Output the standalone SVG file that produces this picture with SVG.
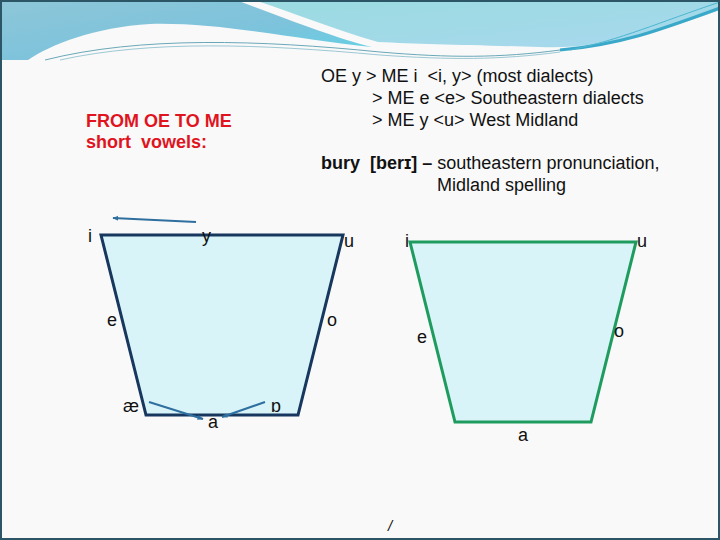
<svg xmlns="http://www.w3.org/2000/svg" width="720" height="540" viewBox="0 0 720 540">
<defs>
<linearGradient id="gL" x1="0" y1="0" x2="1" y2="1">
<stop offset="0" stop-color="#8ec6d8"/>
<stop offset="0.6" stop-color="#7cc3dc"/>
<stop offset="1" stop-color="#5fd3e6"/>
</linearGradient>
<linearGradient id="gR" x1="0" y1="0" x2="1" y2="1">
<stop offset="0" stop-color="#9adbe0"/>
<stop offset="1" stop-color="#a8d8ee"/>
</linearGradient>
<marker id="ah" viewBox="0 0 10 10" refX="9" refY="5" markerWidth="6" markerHeight="6" orient="auto-start-reverse" markerUnits="userSpaceOnUse">
<path d="M0,1 L10,5 L0,9 Z" fill="#2f6f9f"/>
</marker>
<style>
.t{font-family:"Liberation Sans",Arial,"DejaVu Sans",sans-serif;fill:#111}
.lab{font-size:18px}
.body{font-size:18px}
.red{font-family:"Liberation Sans",Arial,sans-serif;font-size:18px;font-weight:bold;fill:#e0141e}
.trap{fill:#d9f4f9;stroke-width:3;stroke-linejoin:miter}
.arr{stroke:#2f6f9f;stroke-width:2;fill:none}
</style>
</defs>
<rect x="0" y="0" width="720" height="540" fill="#f9f9f9"/>
<g id="header">
<path d="M0,0 H236 C285,18 335,38 372,47 C300,40 220,22 150,24 C95,27 50,45 28,60 H0 Z" fill="url(#gL)"/>
<path d="M254,0 H720 V10 C665,30 600,50 540,47 C470,45 420,44 378,42 C335,30 292,12 254,0 Z" fill="url(#gR)"/>
<path d="M720,8 C660,30 620,45 560,50" stroke="#3aa9c9" stroke-width="3" fill="none"/>
<path d="M720,2 C660,22 620,40 570,50" stroke="#4bb6d0" stroke-width="1" fill="none"/>
<path d="M45,60 C140,36 260,40 380,52 C450,58 500,58 560,50" stroke="#6aa8b8" stroke-width="1" fill="none"/>
<path d="M60,60 C150,40 260,44 380,55 C450,60 500,60 560,52" stroke="#9cc8d4" stroke-width="1" fill="none"/>
</g>
<rect x="1" y="1" width="718" height="538" fill="none" stroke="#2c5565" stroke-width="2"/>
<g id="title">
<text class="red" x="86" y="127">FROM OE TO ME</text>
<text class="red" x="86" y="148" xml:space="preserve">short  vowels:</text>
</g>
<g id="notes">
<text class="t body" x="321" y="82" xml:space="preserve">OE y &gt; ME i  &lt;i, y&gt; (most dialects)</text>
<text class="t body" x="372" y="104">&gt; ME e &lt;e&gt; Southeastern dialects</text>
<text class="t body" x="372" y="126">&gt; ME y &lt;u&gt; West Midland</text>
<text class="t body" x="321" y="169" xml:space="preserve"><tspan font-weight="bold">bury  [berɪ] –</tspan> southeastern pronunciation,</text>
<text class="t body" x="437" y="191">Midland spelling</text>
</g>
<g id="oe-trapezoid">
<polygon class="trap" points="101,235 343,235 298,415 146,415" stroke="#17375e"/>
<text class="t lab" x="88" y="242">i</text>
<text class="t lab" x="202" y="242">y</text>
<text class="t lab" x="344" y="247">u</text>
<text class="t lab" x="107" y="326">e</text>
<text class="t lab" x="327" y="326">o</text>
<text class="t lab" x="123" y="412">æ</text>
<text class="t lab" x="208" y="428">a</text>
<text class="t lab" x="271" y="412">ɒ</text>
</g>
<g id="me-trapezoid">
<polygon class="trap" points="410,242 636,242 591,422 455,422" stroke="#1e9b5e"/>
<text class="t lab" x="405" y="247">i</text>
<text class="t lab" x="637" y="247">u</text>
<text class="t lab" x="417" y="343">e</text>
<text class="t lab" x="614" y="337">o</text>
<text class="t lab" x="518" y="441">a</text>
</g>
<g id="connectors">
<path class="arr" d="M196,222 L113,218" marker-end="url(#ah)"/>
<path class="arr" d="M149,402 L203,419" marker-end="url(#ah)"/>
<path class="arr" d="M265,402 L222,417" marker-end="url(#ah)"/>
</g>
<text class="t" x="388" y="531" font-size="15" font-style="italic">/</text>
</svg>
